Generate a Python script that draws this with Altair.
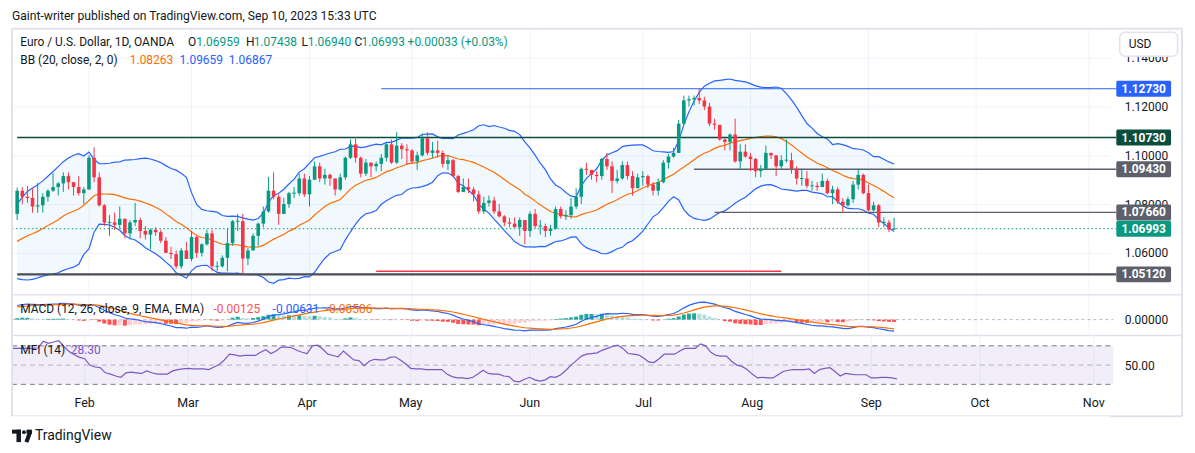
import altair as alt
import numpy as np
import pandas as pd

FONT = "Roboto"
TXT = "#131722"
BORDER = "#e0e3eb"
GRID = "#f0f3fa"
UP = "#089981"
DOWN = "#F23645"

# ---------------- data ----------------
warmup_close = [0.9875, 0.9815, 0.9750, 0.9960, 1.0020, 1.0075, 1.0010, 1.0205, 1.0355, 1.0325,
                1.0350, 1.0395, 1.0365, 1.0325, 1.0245, 1.0300, 1.0395, 1.0410, 1.0400, 1.0340,
                1.0330, 1.0405,
                1.0525, 1.0535, 1.0490, 1.0465, 1.0505, 1.0555, 1.0530, 1.0535, 1.0630, 1.0680,
                1.0625, 1.0585, 1.0605, 1.0625, 1.0605, 1.0595, 1.0615, 1.0635, 1.0640, 1.0610,
                1.0660, 1.0705,
                1.0670, 1.0545, 1.0605, 1.0520, 1.0645, 1.0730, 1.0735, 1.0760]
first_open = 1.0760
close = [
    1.0855, 1.0830, 1.0825, 1.0790, 1.0795, 1.0830, 1.0855, 1.0870, 1.0885, 1.0915, 1.0890, 1.0870, 1.0845, 1.0860,
    1.0990, 1.0910, 1.0795, 1.0725, 1.0725, 1.0715, 1.0740, 1.0680, 1.0725, 1.0735, 1.0690, 1.0675, 1.0695, 1.0685,
    1.0650, 1.0600, 1.0595, 1.0545, 1.0610, 1.0575,
    1.0665, 1.0600, 1.0635, 1.0680, 1.0545, 1.0545, 1.0580, 1.0640, 1.0730, 1.0730, 1.0577, 1.0610, 1.0670, 1.0720,
    1.0770, 1.0855, 1.0830, 1.0760, 1.0800, 1.0845, 1.0845, 1.0905, 1.0840,
    1.0900, 1.0955, 1.0905, 1.0920, 1.0905, 1.0860, 1.0910, 1.0990, 1.1045, 1.0990, 1.0925, 1.0970, 1.0955, 1.0965,
    1.0990, 1.1045, 1.0970, 1.1040, 1.1025, 1.1020,
    1.0975, 1.1000, 1.1070, 1.1010, 1.1020, 1.1010, 1.0965, 1.0980, 1.0915, 1.0850, 1.0870, 1.0860, 1.0840, 1.0770,
    1.0805, 1.0815, 1.0770, 1.0750, 1.0725, 1.0720, 1.0705, 1.0735, 1.0690,
    1.0760, 1.0710, 1.0710, 1.0690, 1.0700, 1.0780, 1.0750, 1.0755, 1.0790, 1.0830, 1.0945, 1.0940, 1.0920, 1.0915,
    1.0985, 1.0955, 1.0895, 1.0905, 1.0960, 1.0915, 1.0865, 1.0910,
    1.0915, 1.0880, 1.0855, 1.0890, 1.0970, 1.0995, 1.1010, 1.1130, 1.1225, 1.1230, 1.1235, 1.1225, 1.1200, 1.1130,
    1.1125, 1.1065, 1.1055, 1.1085, 1.0975, 1.1015, 1.0995,
    1.0985, 1.0935, 1.0945, 1.1010, 1.1000, 1.0955, 1.0980, 1.0980, 1.0945, 1.0905, 1.0905, 1.0875, 1.0875, 1.0870,
    1.0895, 1.0845, 1.0860, 1.0810, 1.0795, 1.0820, 1.0880, 1.0920, 1.0845,
    1.0775, 1.0795, 1.0725, 1.0725, 1.06959, 1.06993]
high = [
    1.0868, 1.0870, 1.0875, 1.0865, 1.0887, 1.0845, 1.0860, 1.0927, 1.0890, 1.0930, 1.0930, 1.0890, 1.0915, 1.0870,
    1.1000, 1.1033, 1.0930, 1.0800, 1.0755, 1.0765, 1.0790, 1.0730, 1.0735, 1.0805, 1.0745, 1.0710, 1.0700, 1.0705,
    1.0695, 1.0665, 1.0625, 1.0610, 1.0620, 1.0645,
    1.0690, 1.0670, 1.0640, 1.0695, 1.0695, 1.0565, 1.0590, 1.0700, 1.0735, 1.0760, 1.0760, 1.0620, 1.0680, 1.0725,
    1.0790, 1.0912, 1.0930, 1.0840, 1.0825, 1.0850, 1.0870, 1.0925, 1.0925,
    1.0915, 1.0975, 1.0970, 1.0945, 1.0925, 1.0905, 1.0925, 1.0995, 1.1065, 1.1075, 1.0995, 1.0985, 1.0970, 1.0975,
    1.1005, 1.1050, 1.1065, 1.1095, 1.1050, 1.1045,
    1.1025, 1.1015, 1.1090, 1.1095, 1.1055, 1.1060, 1.1020, 1.1000, 1.0985, 1.0920, 1.0905, 1.0905, 1.0870, 1.0855,
    1.0830, 1.0835, 1.0830, 1.0800, 1.0755, 1.0745, 1.0745, 1.0745, 1.0735,
    1.0770, 1.0780, 1.0735, 1.0720, 1.0715, 1.0790, 1.0790, 1.0775, 1.0825, 1.0865, 1.0950, 1.0970, 1.0940, 1.0935,
    1.0990, 1.1010, 1.0975, 1.0940, 1.0975, 1.0975, 1.0935, 1.0925,
    1.0935, 1.0920, 1.0890, 1.0905, 1.0980, 1.1005, 1.1030, 1.1145, 1.1245, 1.1245, 1.1245, 1.1275, 1.1240, 1.1215,
    1.1150, 1.1125, 1.1070, 1.1090, 1.1150, 1.1045, 1.1045,
    1.1010, 1.0990, 1.0960, 1.1040, 1.1010, 1.1000, 1.1000, 1.1065, 1.1010, 1.0955, 1.0945, 1.0935, 1.0895, 1.0890,
    1.0925, 1.0905, 1.0875, 1.0870, 1.0825, 1.0830, 1.0895, 1.0945, 1.0925,
    1.0880, 1.0810, 1.0800, 1.0745, 1.0735, 1.07438]
low = [
    1.0735, 1.0800, 1.0805, 1.0765, 1.0765, 1.0765, 1.0810, 1.0850, 1.0835, 1.0850, 1.0860, 1.0835, 1.0835, 1.0800,
    1.0860, 1.0890, 1.0790, 1.0710, 1.0670, 1.0695, 1.0700, 1.0660, 1.0655, 1.0710, 1.0660, 1.0655, 1.0615, 1.0670,
    1.0640, 1.0600, 1.0575, 1.0535, 1.0535, 1.0575,
    1.0565, 1.0580, 1.0585, 1.0630, 1.0525, 1.0525, 1.0540, 1.0525, 1.0630, 1.0690, 1.0516, 1.0550, 1.0610, 1.0630,
    1.0705, 1.0765, 1.0820, 1.0715, 1.0760, 1.0785, 1.0825, 1.0835, 1.0830,
    1.0790, 1.0900, 1.0890, 1.0880, 1.0875, 1.0835, 1.0855, 1.0900, 1.0985, 1.0970, 1.0910, 1.0915, 1.0910, 1.0935,
    1.0935, 1.0975, 1.0965, 1.0965, 1.0985, 1.0960,
    1.0965, 1.0940, 1.0995, 1.1000, 1.0990, 1.0990, 1.0950, 1.0940, 1.0910, 1.0845, 1.0850, 1.0845, 1.0810, 1.0760,
    1.0760, 1.0790, 1.0760, 1.0745, 1.0710, 1.0705, 1.0705, 1.0670, 1.0635,
    1.0665, 1.0700, 1.0675, 1.0665, 1.0670, 1.0695, 1.0740, 1.0735, 1.0740, 1.0780, 1.0800, 1.0920, 1.0900, 1.0890,
    1.0900, 1.0940, 1.0845, 1.0885, 1.0900, 1.0900, 1.0835, 1.0865,
    1.0875, 1.0865, 1.0835, 1.0835, 1.0885, 1.0945, 1.0990, 1.1010, 1.1125, 1.1200, 1.1205, 1.1210, 1.1185, 1.1120,
    1.1105, 1.1060, 1.1020, 1.1020, 1.0970, 1.0945, 1.0990,
    1.0935, 1.0910, 1.0910, 1.0940, 1.0985, 1.0915, 1.0945, 1.0970, 1.0925, 1.0880, 1.0875, 1.0865, 1.0855, 1.0855,
    1.0870, 1.0840, 1.0800, 1.0800, 1.0765, 1.0790, 1.0805, 1.0860, 1.0840,
    1.0770, 1.0770, 1.0705, 1.0705, 1.0685, 1.06940]
mfi = [76, 76, 76, 76, 76, 77, 87, 84, 86, 88,
       79, 71, 66, 62, 60, 50, 47, 46, 38, 36,
       33, 31, 38, 39, 38, 37, 41, 38, 36, 36,
       36, 41, 43, 44, 45, 44, 44, 44, 43, 47,
       51, 58, 67, 66, 64, 65, 65, 65, 70, 74,
       68, 72, 78, 78, 77, 73, 70, 68, 80, 81,
       75, 67, 65, 63, 72, 65, 58, 57, 49, 56,
       59, 58, 58, 62, 63, 58, 52, 45, 44, 44,
       43, 43, 43, 43, 36, 32, 30, 30, 29, 31,
       36, 42, 37, 36, 36, 33, 32, 25, 24, 28,
       31, 27, 25, 27, 32, 31, 35, 42, 50, 57,
       64, 67, 68, 69, 73, 76, 79, 81, 76, 68,
       67, 66, 61, 55, 54, 60, 67, 67, 67, 72,
       76, 76, 76, 83, 80, 70, 65, 64, 64, 56,
       50, 48, 43, 36, 30, 31, 30, 30, 35, 40,
       42, 43, 43, 43, 44, 37, 43, 45, 46, 40,
       33, 37, 36, 35, 35, 35, 30, 30, 31, 31,
       30, 28.3]

level_price = [1.12730, 1.10730, 1.09430, 1.07660, 1.05120]
level_from_bar = [71, 0, 132, 136, 0]
level_id = ["a", "b", "c", "d", "e"]
red_line_price = [1.0525, 1.0525]
red_line_bar = [70, 149]

# ---------------- styles ----------------
LEVEL_COLOR = {"a": "#2962FF", "b": "#0b4d3c", "c": "#5d606b", "d": "#5d606b", "e": "#4a4e59"}
LEVEL_WIDTH = {"a": 1.0, "b": 1.3, "c": 1.3, "d": 1.3, "e": 2.2}
TAG_COLOR = {"a": "#2962FF", "b": "#0b4d3c", "c": "#5d606b", "d": "#5d606b", "e": "#5d606b", "cur": UP}
HIST_COLOR = {"ga": "#26A69A", "gb": "#B2DFDB", "ra": "#FF5252", "rb": "#FFCDD2"}

# ---------------- frame ----------------
n = len(close)
dates = pd.bdate_range("2023-01-12", periods=n)
opens = [first_open] + close[:-1]
df = pd.DataFrame({"i": np.arange(n), "date": dates.strftime("%Y-%m-%d"),
                   "open": opens, "close": close, "high": high, "low": low, "mfi": mfi})
df["high"] = df[["high", "open", "close"]].max(axis=1)
df["low"] = df[["low", "open", "close"]].min(axis=1)
df["col"] = np.where(df["close"] >= df["open"], UP, DOWN)
top = df[["open", "close"]].max(axis=1)
bot = df[["open", "close"]].min(axis=1)
mid = (top + bot) / 2
thin = (top - bot) < 0.0004
df["btop"] = np.where(thin, mid + 0.0002, top)
df["bbot"] = np.where(thin, mid - 0.0002, bot)

allc = pd.Series(warmup_close + close)
w = len(warmup_close)
basis = allc.rolling(20).mean()
sd = allc.rolling(20).std(ddof=0)
ema12 = allc.ewm(span=12, adjust=False).mean()
ema26 = allc.ewm(span=26, adjust=False).mean()
macd = ema12 - ema26
sig = macd.ewm(span=9, adjust=False).mean()
hist = macd - sig
df["basis"] = basis.values[w:]
df["upper"] = (basis + 2 * sd).values[w:]
df["lower"] = (basis - 2 * sd).values[w:]
df["macd"] = macd.values[w:]
df["sig"] = sig.values[w:]
h = hist.values
hp = np.roll(h, 1)
cat = np.where(h >= 0, np.where(h >= hp, "ga", "gb"), np.where(h < hp, "ra", "rb"))
df["hist"] = h[w:]
df["hcol"] = [HIST_COLOR[c] for c in cat[w:]]
df["zero"] = 0.0

cal = pd.bdate_range("2023-01-12", "2023-11-30")
mdf = pd.DataFrame({"i": np.arange(len(cal)), "m": cal.month, "lab": cal.strftime("%b")})
mdf = mdf[mdf["m"] != mdf["m"].shift(1)].iloc[1:]

W, HM, HD, HF = 1102, 267, 41, 81
XS = alt.Scale(domain=[-0.04, 212.0], nice=False, zero=False)
YM = alt.Scale(domain=[1.04286, 1.15184], nice=False, zero=False)
YD = alt.Scale(domain=[-0.0087, 0.01359], nice=False, zero=False)
YF = alt.Scale(domain=[-29.6, 96.0], nice=False, zero=False)
TAG_X1, TAG_X2, TAG_XC = 1109, 1164, 1136.5
half = 8 * (1.15184 - 1.04286) / HM

AX_M = alt.Axis(orient="right", values=[1.06, 1.08, 1.10, 1.12, 1.14], format=".5f", title=None,
                grid=True, gridColor=GRID, gridWidth=1, ticks=False, domain=False, labelPadding=15,
                labelFont=FONT, labelFontSize=12, labelColor=TXT)
AX_D = alt.Axis(orient="right", values=[0.0], format=".5f", title=None, grid=False, ticks=False,
                domain=False, labelPadding=15, labelFont=FONT, labelFontSize=12, labelColor=TXT)
AX_F = alt.Axis(orient="right", values=[50], format=".2f", title=None, grid=False, ticks=False,
                domain=False, labelPadding=15, labelFont=FONT, labelFontSize=12, labelColor=TXT)


def X(f):
    return alt.X(f"{f}:Q", scale=XS, axis=None, title=None)


def YMf(f):
    return alt.Y(f"{f}:Q", scale=YM, axis=AX_M, title=None)


def YDf(f):
    return alt.Y(f"{f}:Q", scale=YD, axis=AX_D, title=None)


def YFf(f):
    return alt.Y(f"{f}:Q", scale=YF, axis=AX_F, title=None)


one = pd.DataFrame({"k": [0]})


def txt(s, x, y, color=TXT, size=12, weight="normal", align="left", font=FONT):
    return alt.Chart(pd.DataFrame({"t": [s]})).mark_text(
        align=align, baseline="middle", fontSize=size, fontWeight=weight, color=color, font=font
    ).encode(text="t:N", x=alt.value(x), y=alt.value(y))


def vrule(x, y1, y2, color=BORDER, sw=2):
    return alt.Chart(one).mark_rule(color=color, strokeWidth=sw).encode(
        x=alt.value(x), y=alt.value(y1), y2=alt.value(y2))


def hrule(y, x1, x2, color=BORDER, sw=2):
    return alt.Chart(one).mark_rule(color=color, strokeWidth=sw).encode(
        x=alt.value(x1), x2=alt.value(x2), y=alt.value(y))


# ---------------- main pane ----------------
vgrid_m = alt.Chart(mdf).mark_rule(color=GRID, strokeWidth=1).encode(x=X("i"))
bb_area = alt.Chart(df).mark_area(color="#2196F3", opacity=0.06).encode(
    x=X("i"), y=YMf("upper"), y2="lower:Q")
bb_up = alt.Chart(df).mark_line(color="#2962FF", strokeWidth=1.2).encode(x=X("i"), y=YMf("upper"))
bb_lo = alt.Chart(df).mark_line(color="#2962FF", strokeWidth=1.2).encode(x=X("i"), y=YMf("lower"))
bb_mid = alt.Chart(df).mark_line(color="#FF6D00", strokeWidth=1.2).encode(x=X("i"), y=YMf("basis"))

lv = pd.DataFrame({"price": level_price, "from": level_from_bar, "id": level_id})
lv["col"] = lv["id"].map(LEVEL_COLOR)
lv["sw"] = lv["id"].map(LEVEL_WIDTH)
levels = alt.Chart(lv).mark_rule().encode(
    x=X("from"), x2=alt.value(TAG_X1), y=YMf("price"),
    color=alt.Color("col:N", scale=None), strokeWidth=alt.StrokeWidth("sw:Q", scale=None))
red = alt.Chart(pd.DataFrame({"p": red_line_price, "b": red_line_bar})).mark_line(
    color="#F23645", strokeWidth=1.6).encode(x=X("b"), y=YMf("p"))
last = df.iloc[[-1]].copy()
cur = alt.Chart(last).mark_rule(color=UP, strokeWidth=1, strokeDash=[1.5, 2.5]).encode(
    x=alt.value(0), x2=alt.value(TAG_X1), y=YMf("close"))

wicks = alt.Chart(df).mark_rule(strokeWidth=1).encode(
    x=X("i"), y=YMf("low"), y2="high:Q", color=alt.Color("col:N", scale=None))
bodies = alt.Chart(df).mark_bar(width=3.6).encode(
    x=X("i"), y=YMf("bbot"), y2="btop:Q", color=alt.Color("col:N", scale=None))

tags = pd.DataFrame({"price": level_price + [close[-1]], "id": level_id + ["cur"]})
tags["lab"] = tags["price"].map(lambda v: f"{v:.5f}")
tags["lo"] = tags["price"] - half
tags["hi"] = tags["price"] + half
tags["col"] = tags["id"].map(TAG_COLOR)
tag_rect = alt.Chart(tags).mark_rect(cornerRadius=1.5).encode(
    x=alt.value(TAG_X1), x2=alt.value(TAG_X2), y=YMf("lo"), y2="hi:Q",
    color=alt.Color("col:N", scale=None))
tag_text = alt.Chart(tags).mark_text(color="white", fontSize=12, fontWeight="bold", font=FONT,
                                     align="center", baseline="middle").encode(
    x=alt.value(TAG_XC), y=YMf("price"), text="lab:N")

usd_box = alt.Chart(one).mark_rect(fill="white", stroke=BORDER, strokeWidth=1.5, cornerRadius=5).encode(
    x=alt.value(1112.5), x2=alt.value(1170.5), y=alt.value(3.5), y2=alt.value(27.5))

main_layers = [
    vgrid_m, bb_area, bb_up, bb_lo, bb_mid, levels, red, cur, wicks, bodies, tag_rect, tag_text,
    usd_box, txt("USD", 1121.5, 15.5),
    txt("Euro / U.S. Dollar, 1D, OANDA", 8.3, 13.7),
    txt("O", 176.7, 13.7), txt("1.06959", 185, 13.7, UP),
    txt("H", 235, 13.7), txt("1.07438", 242.7, 13.7, UP),
    txt("L", 290.7, 13.7), txt("1.06940", 297, 13.7, UP),
    txt("C", 344, 13.7), txt("1.06993", 351, 13.7, UP),
    txt("+0.00033 (+0.03%)", 397.3, 13.7, UP),
    txt("BB (20, close, 2, 0)", 8.3, 31.3),
    txt("1.08263", 118.3, 31.3, "#FF6D00"), txt("1.09659", 168.3, 31.3, "#2962FF"),
    txt("1.06867", 217.7, 31.3, "#2962FF"),
    hrule(0, 0, 1175), vrule(0, 0, HM), vrule(1175, 0, HM),
]
main = alt.layer(*main_layers).properties(width=W, height=HM)

# ---------------- MACD pane ----------------
vgrid_d = alt.Chart(mdf).mark_rule(color=GRID, strokeWidth=1).encode(x=X("i"))
zero_line = alt.Chart(df.iloc[[0]]).mark_rule(color="#787B86", opacity=0.55, strokeDash=[3, 3],
                                              strokeWidth=1).encode(
    x=alt.value(0), x2=alt.value(1106), y=YDf("zero"))
hbars = alt.Chart(df).mark_bar(width=4).encode(
    x=X("i"), y=YDf("hist"), y2="zero:Q", color=alt.Color("hcol:N", scale=None))
mline = alt.Chart(df).mark_line(color="#2962FF", strokeWidth=1.2).encode(x=X("i"), y=YDf("macd"))
sline = alt.Chart(df).mark_line(color="#FF6D00", strokeWidth=1.2).encode(x=X("i"), y=YDf("sig"))
macd_pane = alt.layer(
    vgrid_d, zero_line, hbars, mline, sline,
    txt("MACD (12, 26, close, 9, EMA, EMA)", 8.3, 14.7),
    txt("-0.00125", 202.3, 14.7, "#FF5252"), txt("-0.00631", 261.7, 14.7, "#2962FF"),
    txt("-0.00506", 315, 14.7, "#FF6D00"),
    hrule(0, 0, 1175, sw=1.5), vrule(0, 0, HD), vrule(1175, 0, HD),
).properties(width=W, height=HD)

# ---------------- MFI pane ----------------
band = pd.DataFrame({"lo": [20], "hi": [80], "mid": [50]})
mfi_band = alt.Chart(band).mark_rect(color="#7E57C2", opacity=0.1).encode(
    x=alt.value(0), x2=alt.value(1106), y=YFf("lo"), y2="hi:Q")
d_lo = alt.Chart(band).mark_rule(color="#787B86", strokeDash=[5, 4], strokeWidth=1).encode(
    x=alt.value(0), x2=alt.value(1106), y=YFf("lo"))
d_hi = alt.Chart(band).mark_rule(color="#787B86", strokeDash=[5, 4], strokeWidth=1).encode(
    x=alt.value(0), x2=alt.value(1106), y=YFf("hi"))
d_mid = alt.Chart(band).mark_rule(color="#787B86", opacity=0.55, strokeDash=[5, 4], strokeWidth=1).encode(
    x=alt.value(0), x2=alt.value(1106), y=YFf("mid"))
vgrid_f = alt.Chart(mdf).mark_rule(color=GRID, strokeWidth=1).encode(
    x=X("i"), y=alt.value(0), y2=alt.value(54))
mfi_line = alt.Chart(df).mark_line(color="#7E57C2", strokeWidth=1.2).encode(x=X("i"), y=YFf("mfi"))
months = alt.Chart(mdf).mark_text(fontSize=12.5, font=FONT, color=TXT, align="center",
                                  baseline="middle").encode(
    x=X("i"), y=alt.value(68), text="lab:N")
mfi_pane = alt.layer(
    vgrid_f, mfi_band, d_lo, d_hi, d_mid, mfi_line, months,
    txt("MFI (14)", 8.3, 15), txt("28.30", 59, 15, "#7E57C2"),
    hrule(0, 0, 1175, sw=1.5), hrule(HF, 0, 1175), vrule(0, 0, HF), vrule(1175, 0, HF),
).properties(width=W, height=HF)

# ---------------- header / footer ----------------
header = txt("Gaint-writer published on TradingView.com, Sep 10, 2023 15:33 UTC", 0, 7,
             size=12.2).properties(width=W, height=20)
logo = [
    alt.Chart(one).mark_rect(color=TXT).encode(x=alt.value(0), x2=alt.value(9), y=alt.value(13.5),
                                               y2=alt.value(17.5)),
    alt.Chart(one).mark_rect(color=TXT).encode(x=alt.value(4.5), x2=alt.value(9), y=alt.value(13.5),
                                               y2=alt.value(26)),
    alt.Chart(one).mark_point(color=TXT, filled=True, size=14, opacity=1).encode(x=alt.value(12),
                                                                                y=alt.value(16)),
    alt.Chart(one).mark_rect(color=TXT).encode(x=alt.value(14.5), x2=alt.value(20), y=alt.value(13.5),
                                               y2=alt.value(17.5)),
    alt.Chart(one).mark_rule(color=TXT, strokeWidth=4.2).encode(
        x=alt.value(18.5), y=alt.value(15), x2=alt.value(14.5), y2=alt.value(26)),
]
footer = alt.layer(*logo, txt("TradingView", 23, 20, size=14)).properties(width=W, height=36)

chart = alt.vconcat(header, main, macd_pane, mfi_pane, footer, spacing=0, bounds="flush").properties(
    padding={"left": 1, "top": 0, "right": 4, "bottom": 0}, background="white"
).configure_view(stroke=None, fill="white")

chart.save("out.html", embed_options={"renderer": "svg", "actions": False})
